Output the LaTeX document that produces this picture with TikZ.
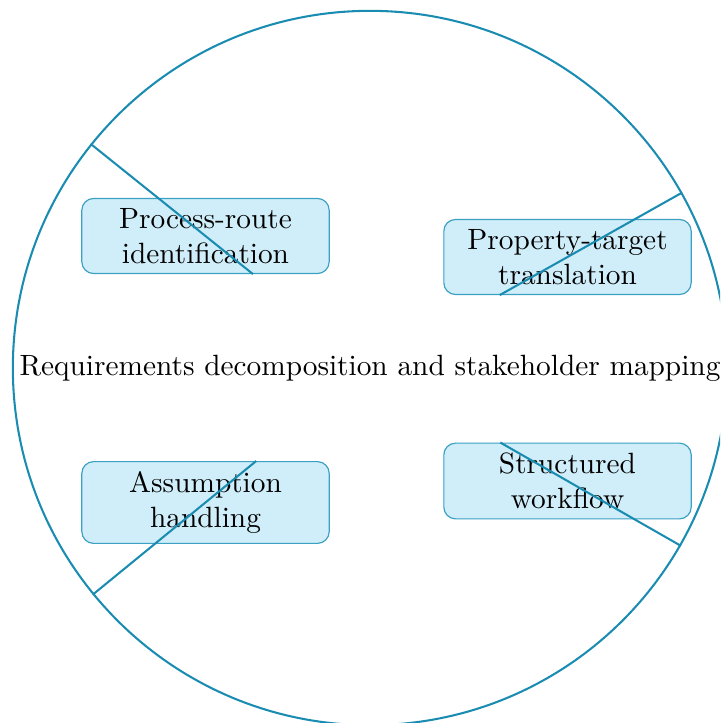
\documentclass[tikz,border=0pt]{standalone}
\usetikzlibrary{shapes.geometric}
\definecolor{ringcol}{RGB}{26,140,178}
\definecolor{boxfill}{RGB}{208,238,249}
\definecolor{boxline}{RGB}{60,160,195}
\begin{document}
\begin{tikzpicture}[x=0.3410pt,y=-0.3410pt,
  ring/.style={circle,draw=ringcol,line width=0.7pt,inner sep=2.3pt},
  subbox/.style={rectangle,rounded corners=4pt,draw=boxline,fill=boxfill,line width=0.4pt,text width=2.73cm,align=center,inner sep=3.333pt},
  link/.style={draw=ringcol,line width=0.7pt}]
\useasboundingbox (0,0) rectangle (720,723);
\begin{scope}
\clip (0,0) rectangle (720,723);
\node[ring] (c) at (370,368) {Requirements decomposition and stakeholder mapping};
\node[subbox] (b1) at (205.5,236) {Process-route identification};
\node[subbox] (b2) at (567.5,257) {Property-target translation};
\node[subbox] (b3) at (205.5,502.5) {Assumption handling};
\node[subbox] (b4) at (567.5,481) {Structured workflow};
\draw[link] (c) -- (b1);
\draw[link] (c) -- (b2);
\draw[link] (c) -- (b3);
\draw[link] (c) -- (b4);
\end{scope}
\end{tikzpicture}
\end{document}
